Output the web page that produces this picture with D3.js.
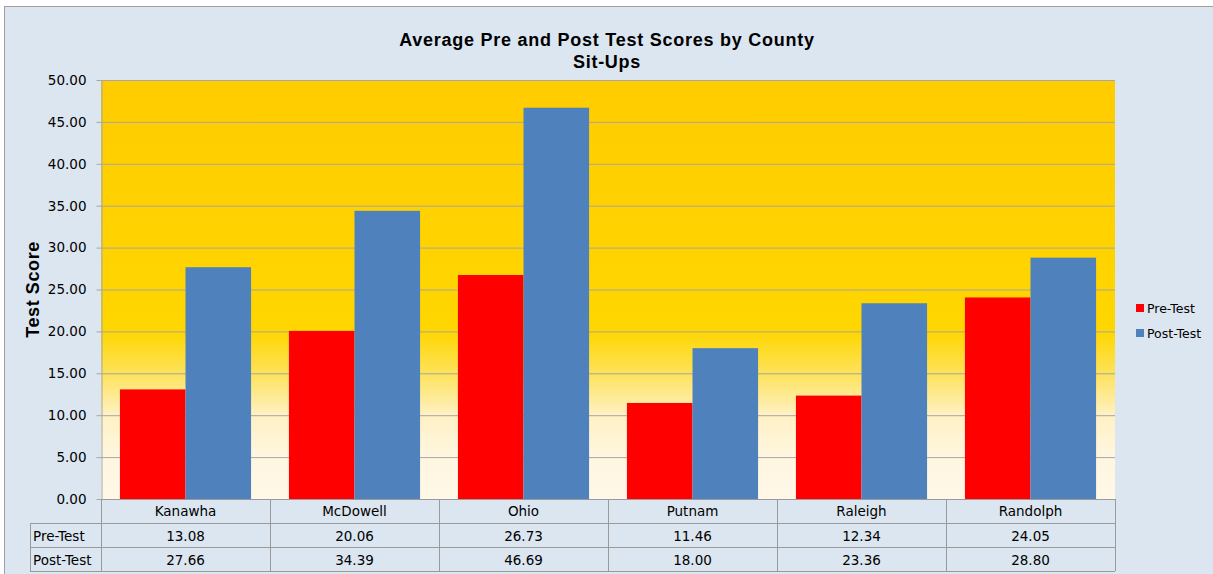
<!DOCTYPE html>
<html>
<head>
<meta charset="utf-8">
<script src="https://cdn.jsdelivr.net/npm/d3@7"></script>
<style>
  body { margin: 0; background: #fff; }
  text { font-family: "DejaVu Sans", Tahoma, sans-serif; fill: #000; }
  text.bold { font-family: "Liberation Sans", Arial, sans-serif; font-weight: bold; }
</style>
</head>
<body>
<svg id="chart" width="1213" height="574"></svg>
<script>
/************************* Data *************************/
const counties = ["Kanawha", "McDowell", "Ohio", "Putnam", "Raleigh", "Randolph"];
const preTest  = [13.08, 20.06, 26.73, 11.46, 12.34, 24.05];
const postTest = [27.66, 34.39, 46.69, 18.00, 23.36, 28.80];
const seriesNames = ["Pre-Test", "Post-Test"];
const yTicks = [0, 5, 10, 15, 20, 25, 30, 35, 40, 45, 50];

const COLORS = { "Pre-Test": "#ff0000", "Post-Test": "#4f81bd" };
const GRID = "#a6a6a6";
const FONT = "'DejaVu Sans', Tahoma, sans-serif";

const plot = { left: 101, top: 80, right: 1115, bottom: 499 };
const rowH = 24;

const svg = d3.select("#chart");

// outer chart frame
svg.append("rect")
  .attr("x", 4.5).attr("y", 6.5)
  .attr("width", 1220).attr("height", 580)
  .attr("fill", "#dce6f1").attr("stroke", "#a0a0a0");

// plot area gradient
const grad = svg.append("defs").append("linearGradient")
  .attr("id", "bg").attr("x1", 0).attr("y1", 0).attr("x2", 0).attr("y2", 1);
[[0, "#ffcc00"], [0.6, "#ffd600"], [0.7, "#fde25a"], [0.8, "#fff1c4"],
 [0.9, "#fff6e0"], [1, "#fff8e8"]].forEach(([o, c]) =>
  grad.append("stop").attr("offset", o).attr("stop-color", c));

svg.append("rect")
  .attr("x", plot.left).attr("y", plot.top)
  .attr("width", plot.right - plot.left).attr("height", plot.bottom - plot.top)
  .attr("fill", "url(#bg)");

/************************* Scales *************************/
const x = d3.scaleBand().domain(counties).range([plot.left, plot.right]).padding(0);
const bandPad = 0.112;
const x1 = d3.scaleBand().domain(seriesNames)
  .range([x.bandwidth() * bandPad, x.bandwidth() * (1 - bandPad)]);
const y = d3.scaleLinear().domain([0, 50]).range([plot.bottom, plot.top]);

// gridlines
svg.append("g").selectAll("line").data(yTicks.filter(d => d > 0)).join("line")
  .attr("x1", plot.left).attr("x2", plot.right)
  .attr("y1", d => y(d) + 0.5).attr("y2", d => y(d) + 0.5)
  .attr("stroke", GRID).attr("stroke-width", 1);

/************************* Bars *************************/
const rows = counties.map((c, i) => ({ county: c, "Pre-Test": preTest[i], "Post-Test": postTest[i] }));

svg.append("g").selectAll("g").data(rows).join("g")
  .attr("transform", d => `translate(${x(d.county)},0)`)
  .selectAll("rect")
  .data(d => seriesNames.map(s => ({ s, v: d[s] })))
  .join("rect")
    .attr("x", d => x1(d.s))
    .attr("width", x1.bandwidth())
    .attr("y", d => y(d.v))
    .attr("height", d => y(0) - y(d.v))
    .attr("fill", d => COLORS[d.s]);

/************************* Y axis *************************/
const yAxis = svg.append("g")
  .attr("transform", `translate(${plot.left + 0.5},0)`)
  .call(d3.axisLeft(y).tickValues(yTicks).tickFormat(d3.format(".2f"))
    .tickSize(5).tickSizeOuter(0).tickPadding(10));
yAxis.select(".domain").attr("stroke", GRID);
yAxis.selectAll(".tick line").attr("stroke", GRID);
yAxis.selectAll("text").attr("font-size", 13.5).attr("fill", "#000")
  .style("font-family", FONT);

svg.append("text").attr("class", "bold")
  .attr("transform", `translate(39,${(plot.top + plot.bottom) / 2}) rotate(-90)`)
  .attr("text-anchor", "middle")
  .attr("font-size", 18).attr("letter-spacing", 0.6)
  .text("Test Score");

/************************* Title *************************/
const title = svg.append("text").attr("class", "bold").attr("text-anchor", "middle")
  .attr("font-size", 18).attr("letter-spacing", 0.75);
title.append("tspan").attr("x", 607).attr("y", 46).text("Average Pre and Post Test Scores by County");
title.append("tspan").attr("x", 607).attr("y", 68).text("Sit-Ups");

/************************* Data table *************************/
const tbl = svg.append("g").attr("stroke", "#9a9a9a").attr("fill", "none");
const tableLeft = 30;
const yRow = i => plot.bottom + i * rowH;

// horizontal lines
[1, 2, 3].forEach(i =>
  tbl.append("line").attr("x1", tableLeft).attr("x2", plot.right)
    .attr("y1", yRow(i) + 0.5).attr("y2", yRow(i) + 0.5));
tbl.append("line").attr("x1", plot.left).attr("x2", plot.right)
  .attr("y1", plot.bottom + 0.5).attr("y2", plot.bottom + 0.5);
// vertical lines
tbl.append("line").attr("x1", tableLeft + 0.5).attr("x2", tableLeft + 0.5)
  .attr("y1", yRow(1)).attr("y2", yRow(3));
tbl.selectAll(".v").data(counties.map(c => x(c)).concat([plot.right])).join("line")
  .attr("x1", d => Math.round(d) + 0.5).attr("x2", d => Math.round(d) + 0.5)
  .attr("y1", plot.bottom).attr("y2", yRow(3));

const txt = svg.append("g").attr("font-size", 13.5);
txt.selectAll(".cat").data(counties).join("text")
  .attr("x", d => x(d) + x.bandwidth() / 2).attr("y", yRow(0) + 17)
  .attr("text-anchor", "middle").text(d => d);

[preTest, postTest].forEach((vals, r) => {
  txt.append("text").attr("x", tableLeft + 3).attr("y", yRow(r + 1) + 18)
    .text(seriesNames[r]);
  txt.selectAll(null).data(vals).join("text")
    .attr("x", (d, i) => x(counties[i]) + x.bandwidth() / 2)
    .attr("y", yRow(r + 1) + 18)
    .attr("text-anchor", "middle")
    .text(d => d3.format(".2f")(d));
});

/************************* Legend *************************/
const legend = svg.append("g").attr("transform", "translate(1136,304)");
seriesNames.forEach((s, i) => {
  const g = legend.append("g").attr("transform", `translate(0,${i * 25})`);
  g.append("rect").attr("width", 8).attr("height", 8).attr("fill", COLORS[s]);
  g.append("text").attr("x", 11).attr("y", 9).attr("font-size", 12.5).text(s);
});
</script>
</body>
</html>
